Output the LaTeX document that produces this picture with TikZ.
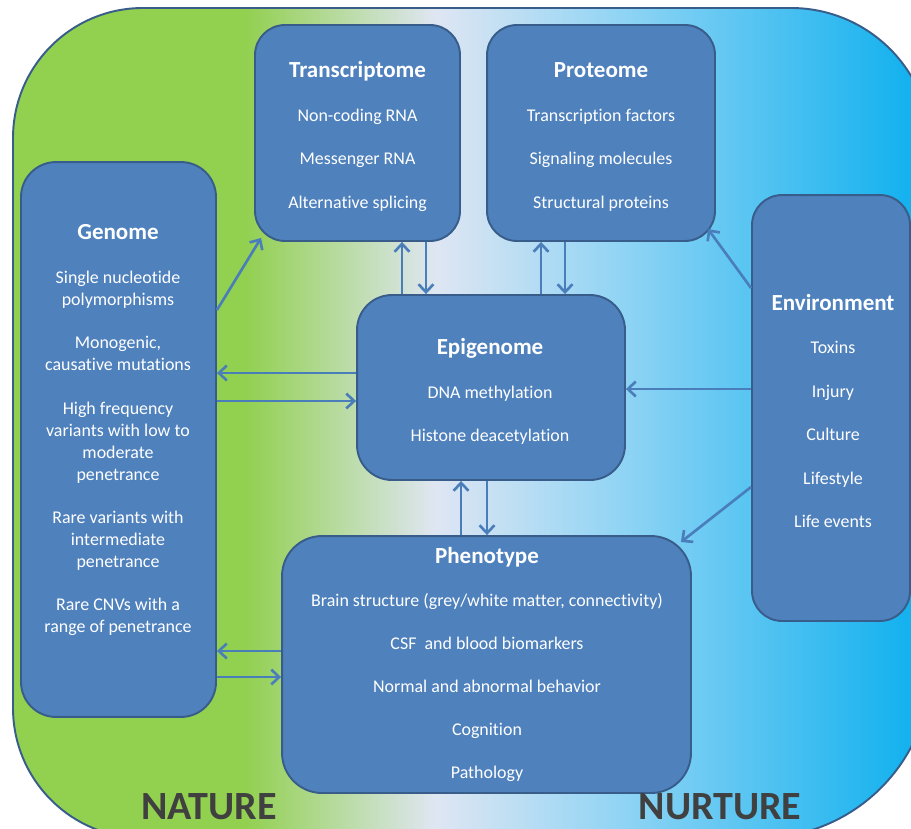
\documentclass[tikz,border=0pt]{standalone}
\usepackage{fontspec}
\setmainfont{Carlito}[Ligatures=NoCommon]
\usetikzlibrary{arrows.meta, positioning}

\definecolor{natgreen}{HTML}{92D050}
\definecolor{midpale}{HTML}{DFE6F3}
\definecolor{lightsky}{HTML}{8CD3F4}
\definecolor{nurblue}{HTML}{0AAFEE}
\definecolor{boxfill}{HTML}{4F81BD}
\definecolor{boxline}{HTML}{385D8A}
\definecolor{arrowblue}{HTML}{4A7EBB}
\definecolor{labelgrey}{HTML}{404040}

\tikzset{
  box/.style={draw=boxline, fill=boxfill, line width=1.1pt, rounded corners=0.6cm},
  boxtext/.style={text=white, align=center, inner sep=0pt, anchor=north,
    font=\fontsize{10.2}{12.5}\selectfont},
  link/.style={draw=arrowblue, line width=1.5pt, -{Straight Barb[length=4.5pt,width=8.5pt]}},
  bigword/.style={text=labelgrey, font=\bfseries\fontsize{22.8}{26}\selectfont}
}
\newcommand{\boxtitle}[1]{{\bfseries\fontsize{13.1}{15}\selectfont #1}\\[12.3pt]}

\begin{document}
\begin{tikzpicture}[x=0.02cm, y=-0.02cm]
	\useasboundingbox (0,0) rectangle (911,828);
	% nature -> nurture background
	\def\backshape{(13,708) -- (13,138) arc[start angle=180, end angle=270, radius=130]
		-- (791,8) arc[start angle=270, end angle=360, radius=140]
		-- (931,667) arc[start angle=0, end angle=90, radius=171]
		-- (143,838) arc[start angle=90, end angle=180, radius=130] -- cycle}
	\begin{scope}
		\clip \backshape;
		\fill[natgreen] (0,0) rectangle (246,840);
		\shade[left color=natgreen, right color=midpale] (245,0) rectangle (436,840);
		\shade[left color=midpale, right color=lightsky] (435,0) rectangle (631,840);
		\shade[left color=lightsky, right color=nurblue] (630,0) rectangle (931,840);
	\end{scope}
	\draw[boxline, line width=1.1pt] \backshape;

	% boxes
	\node[box, minimum width=4.10cm, minimum height=4.32cm] (transcriptome) at (357.5,133) {};
	\node[box, minimum width=4.56cm, minimum height=4.32cm] (proteome) at (601,133) {};
	\node[box, rounded corners=0.7cm, minimum width=3.90cm, minimum height=11.10cm] (genome) at (118.5,439.5) {};
	\node[box, rounded corners=0.7cm, minimum width=5.36cm, minimum height=3.70cm] (epigenome) at (491,387.5) {};
	\node[box, rounded corners=0.8cm, minimum width=8.18cm, minimum height=5.14cm] (phenotype) at (486.5,664.5) {};
	\node[box, minimum width=3.16cm, minimum height=8.52cm] (environment) at (831,408) {};

	\node[boxtext] (transcriptometext) at (357.5,61) {\boxtitle{Transcriptome}
		Non-coding RNA\\[12.3pt] Messenger RNA\\[12.3pt] Alternative splicing};
	\node[boxtext] (proteometext) at (601,62.5) {\boxtitle{Proteome}
		Transcription factors\\[12.3pt] Signaling molecules\\[12.3pt] Structural proteins};
	\node[boxtext] (genometext) at (118,224.5) {\boxtitle{Genome}
		Single nucleotide\\ polymorphisms\\[12.2pt]
		Monogenic,\\ causative mutations\\[12.2pt]
		High frequency\\ variants with low to\\ moderate\\ penetrance\\[12.2pt]
		Rare variants with\\ intermediate\\ penetrance\\[12.2pt]
		Rare CNVs with a\\ range of penetrance};
	\node[boxtext] (epigenometext) at (490,338) {\boxtitle{Epigenome}
		DNA methylation\\[12.3pt] Histone deacetylation};
	\node[boxtext] (phenotypetext) at (487,546.5) {\boxtitle{Phenotype}
		Brain structure (grey/white matter, connectivity)\\[12pt]
		CSF\ \ and blood biomarkers\\[12pt]
		Normal and abnormal behavior\\[12pt]
		Cognition\\[12pt] Pathology};
	\node[boxtext] (environmenttext) at (833,293.5) {\boxtitle{Environment}
		Toxins\\[12.3pt] Injury\\[12.3pt] Culture\\[12.3pt] Lifestyle\\[12.3pt] Life events};

	% connectors
	\draw[link] ([yshift=2.59cm]genome.east) -- ([xshift=0.14cm,yshift=0.08cm]transcriptome.south west);
	\draw[link] ([yshift=0.29cm]epigenome.west) -- ([yshift=0.29cm]epigenome.west -| genome.east);
	\draw[link] ([yshift=-0.27cm]epigenome.west -| genome.east) -- ([yshift=-0.27cm]epigenome.west);
	\draw[link] ([xshift=0.89cm]transcriptome.south |- epigenome.north) -- ([xshift=0.89cm]transcriptome.south);
	\draw[link] ([xshift=1.37cm]transcriptome.south) -- ([xshift=1.37cm]transcriptome.south |- epigenome.north);
	\draw[link] ([xshift=-1.2cm]proteome.south |- epigenome.north) -- ([xshift=-1.2cm]proteome.south);
	\draw[link] ([xshift=-0.72cm]proteome.south) -- ([xshift=-0.72cm]proteome.south |- epigenome.north);
	\draw[link] ([xshift=-0.6cm]epigenome.south |- phenotype.north) -- ([xshift=-0.6cm]epigenome.south);
	\draw[link] ([xshift=-0.08cm]epigenome.south) -- ([xshift=-0.08cm]epigenome.south |- phenotype.north);
	\draw[link] ([yshift=0.27cm]phenotype.west) -- ([yshift=0.27cm]phenotype.west -| genome.east);
	\draw[link] ([yshift=-0.25cm]phenotype.west -| genome.east) -- ([yshift=-0.25cm]phenotype.west);
	\draw[link] ([yshift=2.4cm]environment.west) -- ([xshift=-0.16cm,yshift=0.26cm]proteome.south east);
	\draw[link] ([yshift=0.38cm]environment.west) -- ([yshift=0.38cm]environment.west -| epigenome.east);
	\draw[link] ([yshift=-1.58cm]environment.west) -- ([xshift=-0.22cm,yshift=-0.14cm]phenotype.north east);

	\node[bigword] (nature) at (209,807) {NATURE};
	\node[bigword] (nurture) at (720,807) {NURTURE};
\end{tikzpicture}
\end{document}
